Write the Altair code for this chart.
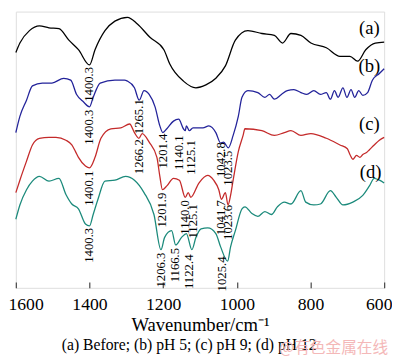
import altair as alt
import pandas as pd

FONT = "Liberation Serif"

# (wavenumber cm^-1, relative transmittance offset)
curve_a = [(1600,247),(1589,257),(1563,270),(1536,275),(1510,273),(1483,272),(1456,260),(1430,250),
           (1400,234),(1385,250),(1358,270),(1331,280),(1297,284),(1270,277),(1236,263),(1198,250),
           (1182,235),(1145,217),(1111,210),(1084,213),(1057,220),(1031,233),(1004,260),(970,270),
           (932,267),(898,265),(876,257),(853,267),(826,265),(799,257),(757,252),(720,243),(693,243),
           (672,238),(650,250),(624,257),(600,258)]

curve_b = [(1600,163),(1589,180),(1571,197),(1555,212),(1528,215),(1502,215),(1470,220),(1451,218),
           (1435,203),(1416,195),(1400,190),(1390,200),(1371,215),(1331,218),(1305,218),(1297,217),
           (1278,210),(1265,197),(1252,207),(1238,203),(1222,190),(1209,170),(1201,163),(1190,167),
           (1172,175),(1158,177),(1145,167),(1140,165),(1137,170),(1129,165),(1119,168),(1092,168),
           (1076,170),(1057,163),(1044,152),(1036,153),(1023,147),(1010,160),(996,180),(986,200),
           (970,207),(943,205),(924,200),(911,203),(898,198),(879,203),(863,207),(845,208),(826,205),
           (810,203),(791,207),(773,203),(757,205),(746,198),(735,207),(725,200),(712,210),(701,200),
           (690,208),(680,200),(669,207),(658,202),(645,205),(632,218),(613,225),(600,230)]

curve_c = [(1600,100),(1589,113),(1571,133),(1555,150),(1536,157),(1510,158),(1491,158),(1464,155),
           (1448,150),(1438,143),(1430,137),(1411,128),(1400,126),(1385,137),(1369,157),(1342,167),
           (1315,168),(1291,172),(1278,163),(1266,157),(1257,162),(1238,153),(1217,137),(1209,117),
           (1202,103),(1190,107),(1172,115),(1156,113),(1140,95),(1132,100),(1125,95),(1103,110),
           (1079,118),(1063,113),(1049,103),(1042,93),(1031,100),(1024,87),(1017,97),(1010,113),
           (996,143),(983,160),(978,167),(932,165),(898,160),(871,163),(853,165),(826,160),(799,162),
           (757,157),(720,150),(700,146),(693,140),(685,135),(675,139),(666,137),(658,140),(648,142),
           (640,145),(627,150),(613,155),(600,158)]

curve_d = [(1600,72),(1589,87),(1571,103),(1555,112),(1536,117),(1510,112),(1483,115),(1464,98),
           (1448,88),(1430,83),(1411,67),(1400,65),(1390,77),(1377,93),(1358,112),(1331,113),
           (1302,117),(1278,113),(1252,100),(1225,77),(1206,40),(1196,53),(1177,60),(1166,45),
           (1150,53),(1137,57),(1122,40),(1111,53),(1097,62),(1079,63),(1057,57),(1044,43),(1025,28),
           (1017,43),(1004,60),(986,83),(978,85),(959,78),(943,75),(924,80),(906,77),(890,85),(871,90),
           (853,88),(826,102),(813,90),(791,87),(773,88),(746,102),(730,95),(712,87),(685,90),(658,97),
           (640,107),(627,115),(613,113),(600,110)]

series_names = ["a", "b", "c", "d"]
series_colors = ["#000000", "#23239a", "#c42a2a", "#1b8a7b"]

# peak annotations: (text, position wavenumber, label top value)
peaks_a = [("1400.3", 1400.3, 232)]
peaks_b = [("1400.3", 1400.3, 187), ("1265.1", 1265.1, 198), ("1201.4", 1201.4, 162),
           ("1140.1", 1158, 160), ("1125.1", 1125.1, 155), ("1042.8", 1044, 153), ("1023.5", 1023.5, 144)]
peaks_c = [("1400.1", 1400.1, 123), ("1266.2", 1266.2, 156), ("1201.9", 1201.9, 100),
           ("1140.0", 1140.0, 92), ("1125.1", 1119, 88), ("1041.7", 1041.7, 92), ("1023.6", 1023.6, 87)]
peaks_d = [("1400.3", 1400.3, 63), ("1206.3", 1206.3, 37), ("1166.5", 1166.5, 42),
           ("1122.4", 1129, 35), ("1025.4", 1039, 33)]

curve_tags = [("(a)", 640, 273), ("(b)", 640, 233), ("(c)", 640, 172), ("(d)", 637, 122)]
tick_values = [1600, 1400, 1200, 1000, 800, 600]
caption = "(a) Before; (b) pH 5; (c) pH 9; (d) pH 12"
watermark_text = "@有色金属在线"

rows = []
for name, pts in zip(series_names, [curve_a, curve_b, curve_c, curve_d]):
    for wn, v in pts:
        rows.append({"series": name, "wn": wn, "v": v})
df = pd.DataFrame(rows)

peak_rows = []
for pk in [peaks_a, peaks_b, peaks_c, peaks_d]:
    for t, p, top in pk:
        peak_rows.append({"text": t, "wn": p, "v": top})
peaks_df = pd.DataFrame(peak_rows)

tags_df = pd.DataFrame([{"text": t, "wn": w, "v": v} for t, w, v in curve_tags])

W, H = 376, 282
xscale = alt.Scale(domain=[600, 1600], reverse=True, nice=False, zero=False)
yscale = alt.Scale(domain=[0, 290], nice=False, zero=False)

lines = alt.Chart(df).mark_line(strokeWidth=1.3, interpolate="monotone").encode(
    x=alt.X("wn:Q", scale=xscale, axis=alt.Axis(
        orient="bottom", values=tick_values, format="d", ticks=False, domain=False, grid=False,
        labelFont=FONT, labelFontSize=18, labelColor="black", labelPadding=8,
        labelFlush=True, labelFlushOffset=8,
        title="Wavenumber/cm⁻¹", titleFont=FONT, titleFontSize=19, titleFontWeight="normal",
        titleColor="black", titlePadding=3)),
    y=alt.Y("v:Q", scale=yscale, axis=None),
    color=alt.Color("series:N", scale=alt.Scale(domain=series_names, range=series_colors), legend=None),
)

peaks = alt.Chart(peaks_df).mark_text(
    angle=270, align="right", baseline="middle", font=FONT, fontSize=13, color="black"
).encode(
    x=alt.X("wn:Q", scale=xscale, axis=alt.Axis(
        orient="top", offset=-H, values=tick_values, ticks=True, tickSize=6, tickColor="#444",
        tickWidth=1.2, labels=False, domain=False, grid=False, title=None)),
    y=alt.Y("v:Q", scale=yscale, axis=None),
    text="text:N",
)

tags = alt.Chart(tags_df).mark_text(
    align="center", baseline="middle", font=FONT, fontSize=19, color="black"
).encode(
    x=alt.X("wn:Q", scale=xscale, axis=None),
    y=alt.Y("v:Q", scale=yscale, axis=None),
    text="text:N",
)

cap = alt.Chart(pd.DataFrame({"t": [caption]})).mark_text(
    align="center", baseline="middle", font=FONT, fontSize=16, color="black"
).encode(x=alt.value(177), y=alt.value(340), text="t:N")

watermark = alt.Chart(pd.DataFrame({"t": [watermark_text]})).mark_text(
    align="left", baseline="middle", font="Noto Sans CJK SC", fontSize=16, color="#f4b8b8"
).encode(x=alt.value(269), y=alt.value(344), text="t:N")

chart = alt.layer(lines, peaks, tags, cap, watermark).resolve_axis(x="independent").properties(
    width=W, height=H,
    autosize=alt.AutoSizeParams(type="none"),
    padding={"left": 8, "right": 8, "top": 0, "bottom": 70},
).configure_view(stroke="#4a4a4a", strokeWidth=1.5).configure(background="white")

chart.save("out.html", embed_options={"renderer": "svg", "actions": False})
